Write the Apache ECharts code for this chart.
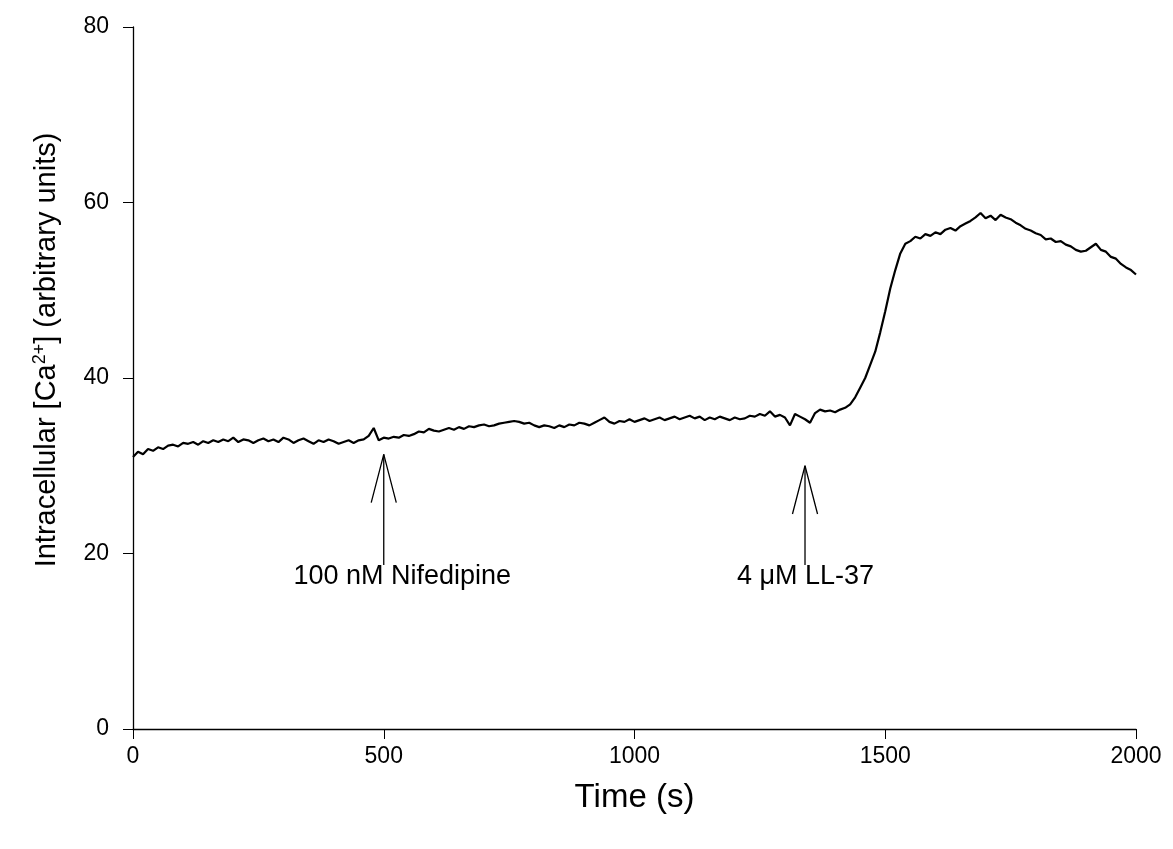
<!DOCTYPE html>
<html>
<head>
<meta charset="utf-8">
<script src="https://cdn.jsdelivr.net/npm/echarts@6/dist/echarts.min.js"></script>
<style>html,body{margin:0;padding:0;background:#fff}#c{width:1173px;height:849px}</style>
</head>
<body>
<div id="c"></div>
<script>
// Time (s), sampled every 10 s
const timeStart = 0, timeStep = 10;
const calcium = [
31.0,31.6,31.3,31.9,31.7,32.1,31.9,32.3,32.4,32.2,
32.6,32.5,32.7,32.4,32.8,32.6,32.9,32.7,33.0,32.8,
33.2,32.7,33.0,32.9,32.6,32.9,33.1,32.8,33.0,32.7,
33.2,33.0,32.6,32.9,33.1,32.8,32.5,32.9,32.7,33.0,
32.8,32.5,32.7,32.9,32.6,32.9,33.0,33.4,34.3,32.9,
33.2,33.1,33.3,33.2,33.5,33.4,33.6,33.9,33.8,34.2,
34.0,33.9,34.1,34.3,34.1,34.4,34.2,34.5,34.4,34.6,
34.7,34.5,34.6,34.8,34.9,35.0,35.1,35.0,34.8,34.9,
34.6,34.4,34.6,34.5,34.3,34.6,34.4,34.7,34.6,34.9,
34.8,34.6,34.9,35.2,35.5,35.0,34.8,35.1,35.0,35.3,
35.0,35.2,35.4,35.1,35.3,35.5,35.2,35.4,35.6,35.3,
35.5,35.7,35.4,35.6,35.2,35.5,35.3,35.6,35.4,35.2,
35.5,35.3,35.4,35.7,35.6,35.9,35.7,36.2,35.6,35.8,
35.5,34.6,35.9,35.6,35.3,34.9,36.0,36.4,36.2,36.3,
36.1,36.4,36.6,37.0,37.8,38.9,40.0,41.5,43.0,45.2,
47.6,50.2,52.3,54.2,55.3,55.6,56.1,55.9,56.4,56.2,
56.6,56.4,56.9,57.1,56.8,57.3,57.6,57.9,58.3,58.8,
58.2,58.5,58.0,58.6,58.3,58.1,57.7,57.4,57.0,56.8,
56.5,56.3,55.8,55.9,55.5,55.6,55.2,55.0,54.6,54.4,
54.5,54.9,55.3,54.6,54.4,53.8,53.6,53.0,52.6,52.3,
51.8
];
const xTicks = [0, 500, 1000, 1500, 2000];
const yTicks = [0, 20, 40, 60, 80];
// annotation arrows (time of addition, label, arrow tip value, arrowhead value)
const annotTimes = [500, 1340];
const annotLabelTimes = [538, 1342];
const annotLabels = ['100 nM Nifedipine', '4 \u03bcM LL-37'];
const annotTips = [31.3, 30.0];
const annotHeads = [25.8, 24.5];
const annotBase = 18.7;
const annotHeadHalf = 25;
const annotLabelY = 17.3;

const lineData = calcium.map((v, i) => [timeStart + i * timeStep, v]);

const arrowSeries = [];
annotTimes.forEach((t, k) => {
  arrowSeries.push({
    type: 'line', silent: true, symbol: 'none', animation: false,
    lineStyle: { color: '#000', width: 1.3 },
    data: [[t, annotBase], [t, annotTips[k]]]
  });
  arrowSeries.push({
    type: 'line', silent: true, symbol: 'none', animation: false,
    lineStyle: { color: '#000', width: 1.3 },
    data: [[t - annotHeadHalf, annotHeads[k]], [t, annotTips[k]], [t + annotHeadHalf, annotHeads[k]]]
  });
});
const font = 'Liberation Sans, Arial, sans-serif';
const labelSeries = {
  type: 'scatter', silent: true, symbolSize: 1, animation: false,
  itemStyle: { color: 'rgba(0,0,0,0)' },
  data: annotTimes.map((t, k) => ({ value: [annotLabelTimes[k], annotLabelY], name: annotLabels[k] })),
  label: { show: true, position: [0, 0], align: 'center', verticalAlign: 'middle',
    formatter: p => p.name, color: '#000', opacity: 1,
    fontFamily: font, fontSize: 27, textBorderWidth: 0 }
};

const chart = echarts.init(document.getElementById('c'), null, { renderer: 'canvas' });
chart.setOption({
  backgroundColor: '#fff',
  animation: false,
  grid: { left: 133, right: 37, top: 27, bottom: 120 },
  xAxis: {
    type: 'value', min: 0, max: 2000, interval: 500,
    name: 'Time (s)', nameLocation: 'middle', nameGap: 52,
    nameTextStyle: { fontFamily: font, fontSize: 33, color: '#000' },
    axisLine: { show: true, lineStyle: { color: '#000', width: 1.3 } },
    axisTick: { show: true, inside: false, length: 10, lineStyle: { color: '#000' } },
    axisLabel: { fontFamily: font, fontSize: 23, color: '#000', margin: 16,
      formatter: v => xTicks.includes(v) ? String(v) : '' },
    splitLine: { show: false }
  },
  yAxis: {
    type: 'value', min: 0, max: 80, interval: 20,
    name: 'Intracellular [Ca{sup|2+}] (arbitrary units)', nameLocation: 'middle', nameGap: 70,
    nameRotate: 90,
    nameTextStyle: { fontFamily: font, fontSize: 29, color: '#000', padding: [0, 0, 0, 56],
      rich: { sup: { fontFamily: font, fontSize: 18, color: '#000', verticalAlign: 'top', padding: [0,0,14,0] } } },
    axisLine: { show: true, lineStyle: { color: '#000', width: 1.3 } },
    axisTick: { show: true, inside: false, length: 10, lineStyle: { color: '#000' } },
    axisLabel: { fontFamily: font, fontSize: 23, color: '#000', margin: 24,
      formatter: v => yTicks.includes(v) ? String(v) : '' },
    splitLine: { show: false }
  },
  series: [
    { type: 'line', data: lineData, symbol: 'none', animation: false,
      lineStyle: { color: '#000', width: 2.2 } },
    ...arrowSeries,
    labelSeries
  ]
});
</script>
</body>
</html>
